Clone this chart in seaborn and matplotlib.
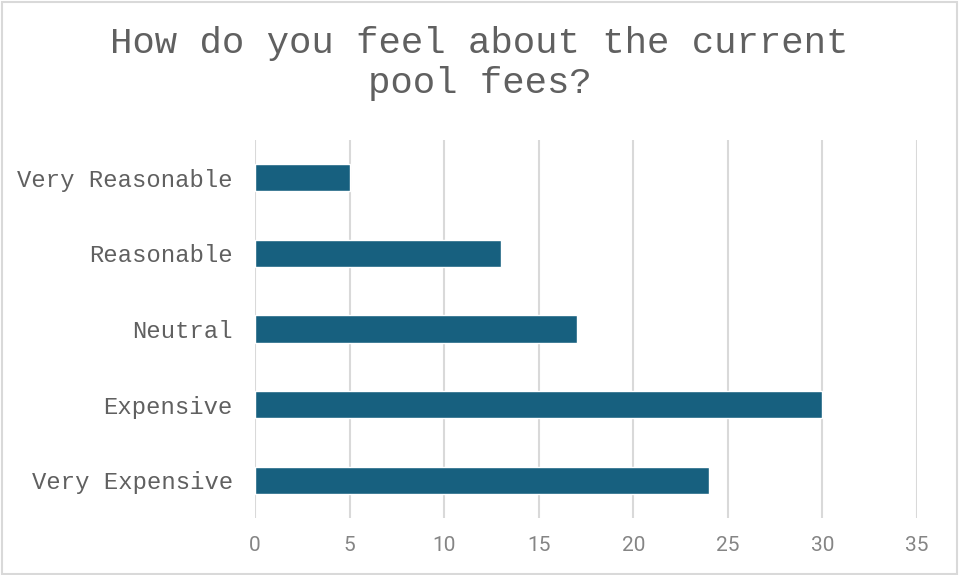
import pandas as pd
import seaborn as sns
import matplotlib.pyplot as plt
from matplotlib.patches import Rectangle

# survey answers
categories = ['Very Reasonable', 'Reasonable', 'Neutral', 'Expensive', 'Very Expensive']
counts = [5, 13, 17, 30, 24]
x_ticks = [0, 5, 10, 15, 20, 25, 30, 35]

df = pd.DataFrame({'answer': categories, 'count': counts})

sns.set_style('white')
plt.rcParams['font.family'] = ['Liberation Mono', 'DejaVu Sans']

fig = plt.figure(figsize=(9.59, 5.75), dpi=100)
ax = fig.add_axes([0.2659, 0.099, 0.6903, 0.658])

sns.barplot(data=df, x='count', y='answer', orient='h', color='#17607f',
            width=0.36, saturation=1, ax=ax, zorder=3)

ax.set_xlim(0, 35)
ax.set_ylim(4.5, -0.5)
ax.set_xticks(x_ticks)
ax.set_xlabel('')
ax.set_ylabel('')
ax.grid(axis='x', color='#d9d9d9', linewidth=1.5, zorder=0)
for s in ax.spines.values():
    s.set_visible(False)
ax.tick_params(axis='both', length=0)
ax.tick_params(axis='y', pad=16, labelsize=17.2, labelcolor='#606060')
ax.tick_params(axis='x', pad=13, labelsize=15, labelcolor='#858585')
for lbl in ax.get_xticklabels():
    lbl.set_family(['Roboto', 'DejaVu Sans'])

fig.text(0.5, 0.955, 'How do you feel about the current\npool fees?',
         ha='center', va='top', fontsize=26.9, color='#606060', linespacing=1.2)

# outer chart border
fig.patches.append(Rectangle((0.002, 0.002), 0.996, 0.994, transform=fig.transFigure,
                             fill=False, edgecolor='#d9d9d9', linewidth=1.5))

fig.savefig('out.png', dpi=100)
